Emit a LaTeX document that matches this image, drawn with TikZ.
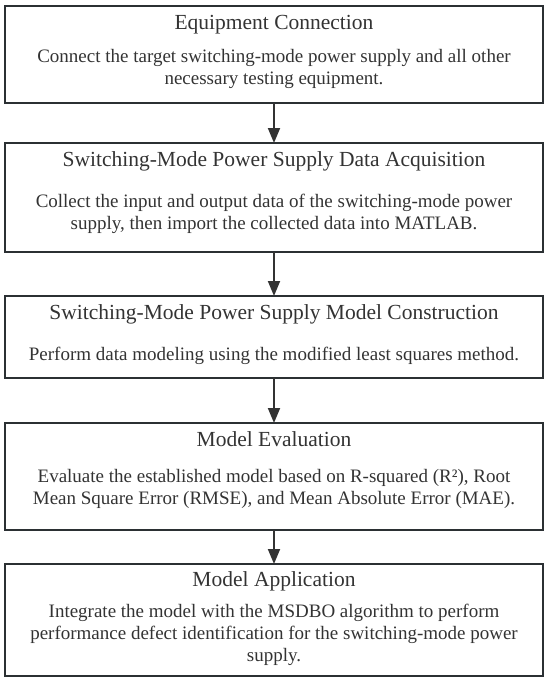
\documentclass[tikz,border=0pt]{standalone}
\usepackage{fontspec}
\setmainfont{Liberation Serif}
\usetikzlibrary{positioning, arrows.meta}
\definecolor{boxline}{HTML}{2B3033}
\definecolor{txt}{HTML}{333333}
\begin{document}
\begin{tikzpicture}[x=1pt, y=1pt,
		stepbox/.style={rectangle, draw=boxline, line width=2pt, minimum width=538pt, inner sep=0pt, outer sep=0pt},
		steptitle/.style={anchor=base, text=txt, inner sep=0pt, font=\fontsize{21.5}{24}\selectfont},
		steptext/.style={anchor=north, text=txt, inner sep=0pt, align=center, font=\fontsize{19}{22}\selectfont},
		flow/.style={draw=txt, line width=1.8pt, -{Triangle[length=15pt, width=12pt]}}]
			\useasboundingbox (0,0) rectangle (550,-686);
			\node[stepbox, anchor=north, minimum height=97pt] at (274,-6) (conn) {};
			\node[stepbox, below=40pt of conn, minimum height=109pt] (acq) {};
			\node[stepbox, below=44pt of acq, minimum height=82pt] (model) {};
			\node[stepbox, below=45pt of model, minimum height=107pt] (eval) {};
			\node[stepbox, below=34pt of eval, minimum height=112pt] (app) {};
			
			\node[steptitle] at ([yshift=-23pt]conn.north) (connT) {Equipment Connection};
			\node[steptitle] at ([yshift=-23pt]acq.north) (acqT) {Switching-Mode Power Supply Data Acquisition};
			\node[steptitle] at ([yshift=-23pt]model.north) (modelT) {Switching-Mode Power Supply Model Construction};
			\node[steptitle] at ([yshift=-23pt]eval.north) (evalT) {Model Evaluation};
			\node[steptitle] at ([yshift=-22pt]app.north) (appT) {Model Application};
			
			\node[steptext] at ([yshift=-43pt]conn.north) (connB) {Connect the target switching-mode power supply and all other\\necessary testing equipment.};
			\node[steptext] at ([yshift=-51pt]acq.north) (acqB) {Collect the input and output data of the switching-mode power\\supply, then import the collected data into MATLAB.};
			\node[steptext] at ([yshift=-51pt]model.north) (modelB) {Perform data modeling using the modified least squares method.};
			\node[steptext] at ([yshift=-46pt]eval.north) (evalB) {Evaluate the established model based on R-squared (R²), Root\\Mean Square Error (RMSE), and Mean Absolute Error (MAE).};
			\node[steptext] at ([yshift=-40pt]app.north) (appB) {Integrate the model with the MSDBO algorithm to perform\\performance defect identification for the switching-mode power\\supply.};
			
			\draw[flow] (conn) -- (acq);
			\draw[flow] (acq) -- (model);
			\draw[flow] (model) -- (eval);
			\draw[flow] (eval) -- (app);
		\end{tikzpicture}
\end{document}
